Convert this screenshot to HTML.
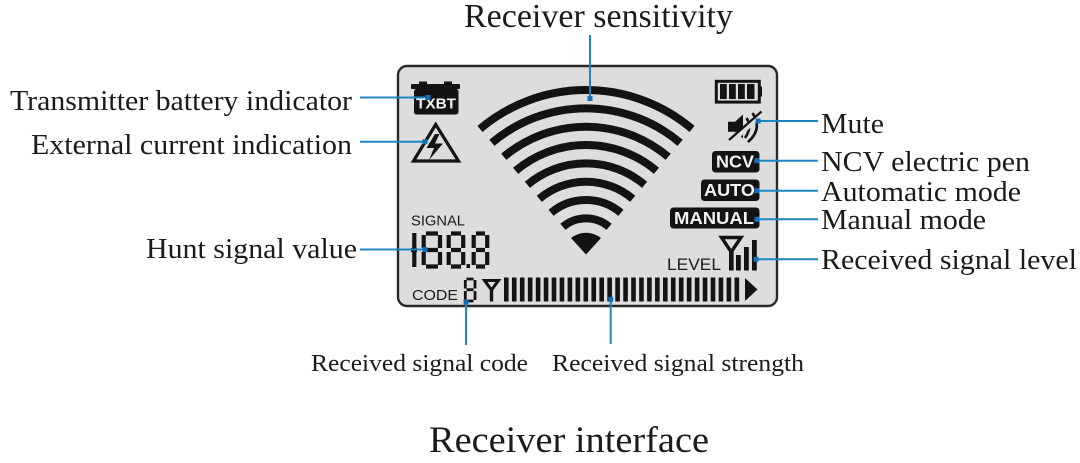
<!DOCTYPE html>
<html><head><meta charset="utf-8"><style>
html,body{margin:0;padding:0;background:#fff;width:1080px;height:463px;overflow:hidden}
svg{display:block}
.s{font-family:"Liberation Serif",serif;fill:#1c1a1b}
.a{font-family:"Liberation Sans",sans-serif;fill:#1c1a1b}
.w{font-family:"Liberation Sans",sans-serif;font-weight:bold;fill:#f2f2f2}
</style></head><body>
<svg width="1080" height="463" viewBox="0 0 1080 463" xmlns="http://www.w3.org/2000/svg">
<rect x="398" y="66" width="379" height="240" rx="9" fill="#dddddd" stroke="#2a2a2b" stroke-width="2.400"/>

<!-- signal arcs -->
<g fill="none" stroke="#141213" stroke-width="8">
<path d="M480 128.900A164 164 0 0 1 692 128.900"/>
<path d="M491.900 142.800A145.700 145.700 0 0 1 680.100 142.800"/>
<path d="M503.800 156.800A127.300 127.300 0 0 1 668.200 156.800"/>
<path d="M515.600 170.800A109 109 0 0 1 656.400 170.800"/>
<path d="M527.400 184.800A90.700 90.700 0 0 1 644.600 184.800"/>
<path d="M539.300 198.800A72.300 72.300 0 0 1 632.700 198.800"/>
<path d="M551.100 212.800A54 54 0 0 1 620.900 212.800"/>
<path d="M562.900 226.800A35.700 35.700 0 0 1 609.100 226.800"/>
</g>
<path fill="#141213" d="M586 254.500L571 238A24 24 0 0 1 601 238Z"/>

<!-- TXBT battery -->
<g fill="#141213">
<rect x="419" y="81.500" width="8" height="3"/><rect x="444" y="81.500" width="8" height="3"/>
<rect x="411" y="84" width="49" height="5" rx="1"/>
<rect x="414" y="89" width="44.500" height="25.500" rx="2.500"/>
</g>
<text class="w" x="416" y="108.500" font-size="14.500" textLength="40" lengthAdjust="spacingAndGlyphs">TXBT</text>

<!-- warning triangle -->
<path d="M435.700 124.500L413.500 161H458.500Z" fill="none" stroke="#141213" stroke-width="3.200" stroke-linejoin="miter"/>
<path d="M435 134L426.500 148H434L429 160L443 143.500H435L439.500 134Z" fill="#141213"/>

<!-- top-right battery -->
<rect x="716.300" y="81.300" width="43" height="20.800" fill="none" stroke="#141213" stroke-width="3"/>
<rect x="759" y="86.500" width="3" height="10" fill="#141213"/>
<g fill="#141213"><rect x="720" y="84" width="6.800" height="15"/><rect x="729" y="84" width="6.800" height="15"/><rect x="738" y="84" width="6.800" height="15"/><rect x="747" y="84" width="7.500" height="15"/></g>

<!-- mute -->
<path d="M728 121.700H735L743 114.500V138.500L735 131.700H728Z" fill="#141213"/>
<g fill="none" stroke="#141213" stroke-width="2.600">
<path d="M746.500 118Q752.500 127 745 138"/>
<path d="M752.500 113Q763 129 748 142"/>
</g>
<path d="M731 142L763 113" stroke="#dddddd" stroke-width="5"/>
<path d="M729 140L761.500 111.500" stroke="#141213" stroke-width="2.200"/>

<!-- mode badges -->
<rect x="712" y="151" width="47.500" height="21.500" rx="3.500" fill="#141213"/>
<text class="w" x="716" y="167.500" font-size="17.500" textLength="38" lengthAdjust="spacingAndGlyphs">NCV</text>
<rect x="701" y="179.500" width="58.500" height="21.500" rx="3.500" fill="#141213"/>
<text class="w" x="704" y="196" font-size="17.500" textLength="51" lengthAdjust="spacingAndGlyphs">AUTO</text>
<rect x="670" y="207.500" width="89.500" height="21" rx="3.500" fill="#141213"/>
<text class="w" x="674" y="224" font-size="17.500" textLength="80" lengthAdjust="spacingAndGlyphs">MANUAL</text>

<!-- LEVEL -->
<text class="a" x="667" y="270" font-size="16.500" textLength="54" lengthAdjust="spacingAndGlyphs">LEVEL</text>
<path d="M721.500 237.500H741L731.200 252Z" fill="none" stroke="#141213" stroke-width="3.400"/>
<rect x="729" y="250" width="4.600" height="20.500" fill="#141213"/>
<rect x="736" y="255" width="4.800" height="15.500" fill="#141213"/>
<rect x="744" y="247" width="4.800" height="23.500" fill="#141213"/>
<rect x="752" y="240" width="4.800" height="30.500" fill="#141213"/>

<!-- SIGNAL digits -->
<text class="a" x="411" y="225.500" font-size="14.500" textLength="54" lengthAdjust="spacingAndGlyphs">SIGNAL</text>
<g fill="none" stroke="#141213" stroke-width="4.200">
<path d="M414.300 233V248M414.300 252V267M411 250H417"/>
<path d="M426 233.500H438M423.700 235V248M440 235V248M426 250H438M423.700 252V265M440 252V265M426 266.500H438"/>
<path d="M451 233.500H461M448.700 235V248M463.200 235V248M451 250H461M448.700 252V265M463.200 252V265M451 266.500H461"/>
<path d="M476 233.500H485M473.700 235V248M487.200 235V248M476 250H485M473.700 252V265M487.200 252V265M476 266.500H485"/>
</g>
<rect x="466.500" y="264" width="3.500" height="4" fill="#141213"/>

<!-- CODE -->
<text class="a" x="412" y="300" font-size="15" textLength="46" lengthAdjust="spacingAndGlyphs">CODE</text>
<path d="M466.500 279H473.500M465.300 280V288.500M475 280V288.500M466.500 289.700H473.500M465.300 291V300M475 291V300M466.500 301H473.500" fill="none" stroke="#141213" stroke-width="2.800"/>
<path d="M484.500 280.500H498.500L491.500 290Z" fill="none" stroke="#141213" stroke-width="3"/>
<rect x="489.800" y="288" width="3.400" height="13.500" fill="#141213"/>

<!-- strength bar -->
<line x1="504" y1="289.500" x2="742.500" y2="289.500" stroke="#141213" stroke-width="24" stroke-dasharray="4.600 3.350"/>
<path d="M745 278V301L757.500 289.500Z" fill="#141213"/>

<!-- connectors -->
<g stroke="#1f86c1" stroke-width="2" fill="none">
<path d="M590 35V98"/>
<path d="M360 97.500H428"/>
<path d="M360 141.700H425"/>
<path d="M360 249.500H425"/>
<path d="M757 121H818"/>
<path d="M757 160.700H818"/>
<path d="M757 190.700H818"/>
<path d="M757 219.300H818"/>
<path d="M756 259.300H818"/>
<path d="M466 302V345"/>
<path d="M610.700 299V344"/>
</g>
<g fill="#1071b8">
<rect x="587.500" y="96" width="5" height="5"/>
<rect x="425.500" y="95" width="5" height="5"/>
<rect x="422.500" y="139.200" width="5" height="5"/>
<rect x="422.500" y="247" width="5" height="5"/>
<rect x="755.500" y="118.500" width="5" height="5"/>
<rect x="754.500" y="158.200" width="5" height="5"/>
<rect x="754.500" y="188.200" width="5" height="5"/>
<rect x="754.500" y="216.800" width="5" height="5"/>
<rect x="753.500" y="256.800" width="5" height="5"/>
<rect x="463.500" y="299.500" width="5" height="5"/>
<rect x="608.200" y="296.800" width="5" height="5"/>
</g>

<!-- labels -->
<text class="s" x="464" y="27" font-size="34" textLength="269" lengthAdjust="spacingAndGlyphs">Receiver sensitivity</text>
<text class="s" x="10" y="110" font-size="29" textLength="342" lengthAdjust="spacingAndGlyphs">Transmitter battery indicator</text>
<text class="s" x="31" y="154" font-size="29" textLength="321" lengthAdjust="spacingAndGlyphs">External current indication</text>
<text class="s" x="146" y="258" font-size="29" textLength="211" lengthAdjust="spacingAndGlyphs">Hunt signal value</text>
<text class="s" x="821" y="133" font-size="29" textLength="63" lengthAdjust="spacingAndGlyphs">Mute</text>
<text class="s" x="821" y="171" font-size="29" textLength="209" lengthAdjust="spacingAndGlyphs">NCV electric pen</text>
<text class="s" x="821" y="201" font-size="29" textLength="200" lengthAdjust="spacingAndGlyphs">Automatic mode</text>
<text class="s" x="821" y="229" font-size="29" textLength="165" lengthAdjust="spacingAndGlyphs">Manual mode</text>
<text class="s" x="821" y="269" font-size="29" textLength="256" lengthAdjust="spacingAndGlyphs">Received signal level</text>
<text class="s" x="311" y="371" font-size="24.500" textLength="217" lengthAdjust="spacingAndGlyphs">Received signal code</text>
<text class="s" x="552" y="371" font-size="24.500" textLength="252" lengthAdjust="spacingAndGlyphs">Received signal strength</text>
<text class="s" x="429" y="452" font-size="37" textLength="280" lengthAdjust="spacingAndGlyphs">Receiver interface</text>
</svg>
</body></html>
